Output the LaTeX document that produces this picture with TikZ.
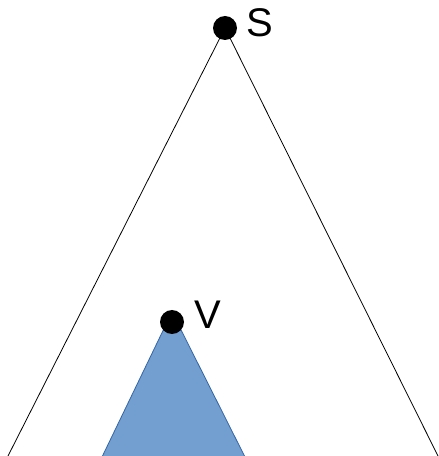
\documentclass[tikz,border=0pt]{standalone}
\usepackage{fontspec}
\setmainfont{Liberation Sans}
\begin{document}
\begin{tikzpicture}[x=1pt,y=1pt,
  dot/.style={circle,fill=black,minimum size=24pt,inner sep=0pt},
  lbl/.style={font=\fontsize{40}{44}\selectfont,inner sep=0pt,anchor=west},
  edge/.style={draw=black,line width=0.8pt},
  subtree/.style={fill=blue1,draw=blue2,line width=0.8pt}]
\definecolor{blue1}{HTML}{729FCF}
\definecolor{blue2}{HTML}{3465A4}
\useasboundingbox (0,0) rectangle (439,456);
\coordinate (L) at (8,0);
\coordinate (R) at (438,0);
\coordinate (A) at (172,144);
\coordinate (BL) at (102,-1);
\coordinate (BR) at (245,-1);
\fill[subtree] (A) -- (BL) -- (BR) -- cycle;
\draw[edge] (L) -- (225,428) -- (R);
\node[dot] (S) at (225,428) {};
\node[dot] (V) at (172,134) {};
\node[lbl] (Sl) at (246,433) {S};
\node[lbl] (Vl) at (194,141) {V};
\end{tikzpicture}
\end{document}
